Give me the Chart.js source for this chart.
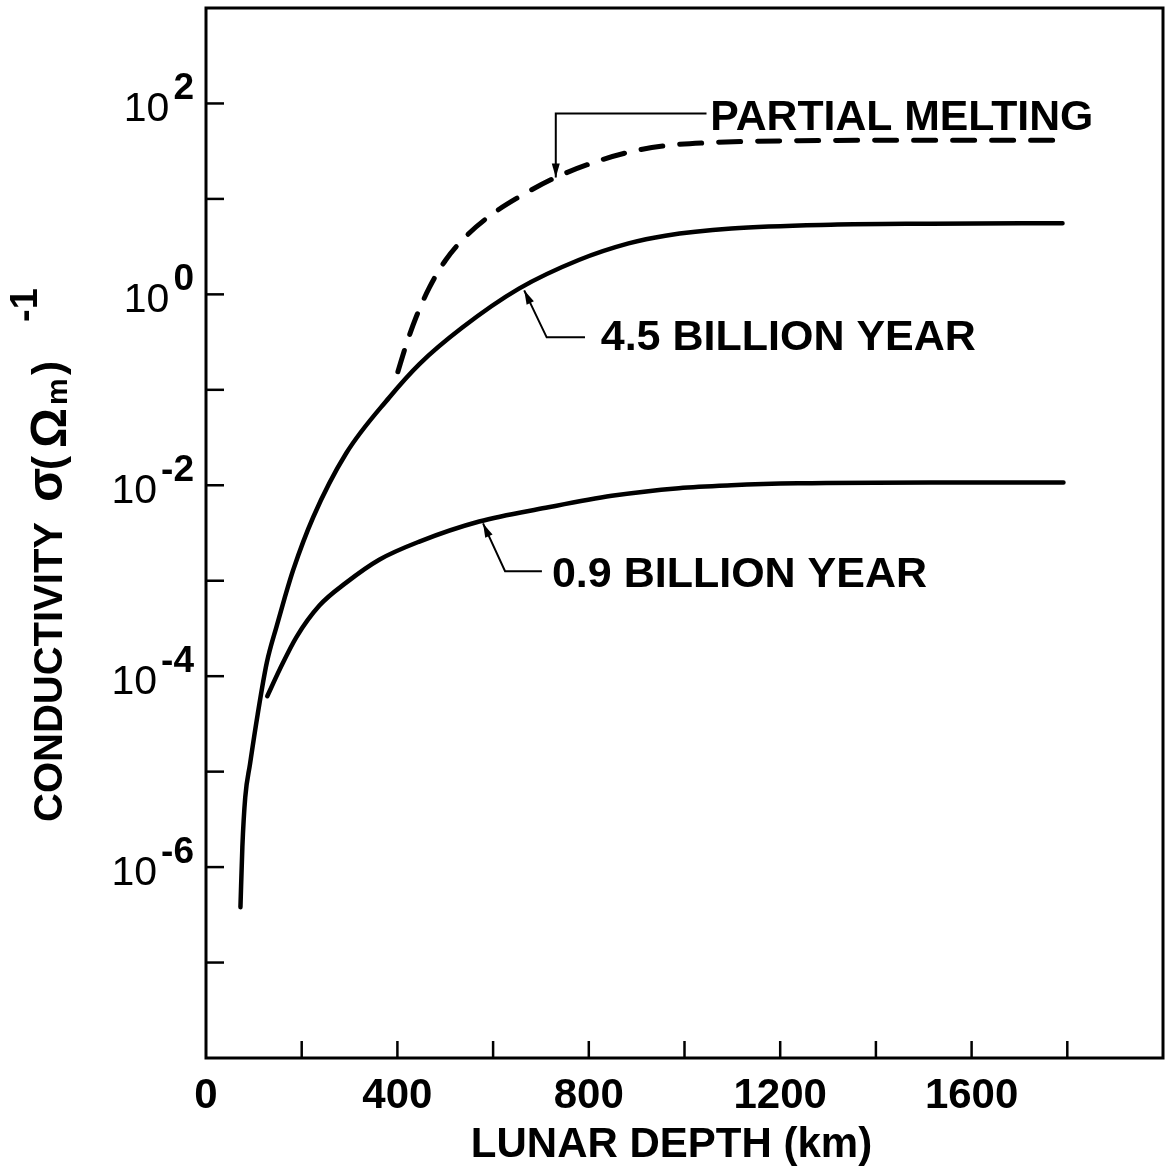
<!DOCTYPE html>
<html>
<head>
<meta charset="utf-8">
<script src="https://cdn.jsdelivr.net/npm/chart.js@4.4.1/dist/chart.umd.min.js"></script>
<style>
  html, body { margin: 0; padding: 0; background: #fff; }
</style>
</head>
<body>
<canvas id="myChart" width="1166" height="1169"></canvas>
<script>
// lunar depth (km) vs log10 of conductivity
const depth45 = [72, 76, 82, 92, 108, 127, 148, 165, 182, 224, 293, 383, 446, 535, 654, 779, 883, 960, 1098, 1306, 1515, 1790];
const logSigma45 = [-6.42, -5.79, -5.27, -4.92, -4.40, -3.86, -3.47, -3.17, -2.89, -2.335, -1.665, -1.08, -0.73, -0.35, 0.06, 0.36, 0.534, 0.615, 0.69, 0.73, 0.74, 0.745];

const depth09 = [128, 154, 189, 237, 293, 362, 446, 571, 710, 848, 988, 1098, 1237, 1515, 1792];
const logSigma09 = [-4.21, -3.93, -3.59, -3.26, -3.02, -2.78, -2.59, -2.38, -2.236, -2.11, -2.03, -2.00, -1.98, -1.97, -1.97];

const depthMelt = [401, 418, 439, 467, 501, 543, 598, 654, 731, 821, 890, 960, 1056, 1237, 1515, 1790];
const logSigmaMelt = [-0.81, -0.534, -0.24, 0.073, 0.36, 0.607, 0.84, 1.02, 1.225, 1.40, 1.497, 1.557, 1.59, 1.61, 1.615, 1.615];

const xTickLabels = [0, 400, 800, 1200, 1600];
const xTickMarks = [200, 400, 600, 800, 1000, 1200, 1400, 1600, 1800];
const yTickExponents = [2, 0, -2, -4, -6];
const yTickMarks = [-7, -6, -5, -4, -3, -2, -1, 0, 1, 2];

// curve labels: text, arrow tip, elbow, end of leader, text start (km, log10 sigma)
const curveNotes = [
  { text: 'PARTIAL MELTING', tip: [731, 1.225], elbow: [731, 1.895], end: [1046, 1.895], at: [1054, 1.717], width: 383 },
  { text: '4.5 BILLION YEAR', tip: [665, 0.042], elbow: [712, -0.45], end: [792, -0.45], at: [825, -0.586], width: 376 },
  { text: '0.9 BILLION YEAR', tip: [579, -2.40], elbow: [625, -2.90], end: [702, -2.90], at: [723, -3.07], width: 384 }
];

function toPoints(xs, logs) {
  return xs.map((x, i) => ({ x: x, y: Math.pow(10, logs[i]) }));
}

const FONT = "'Liberation Sans', Arial, sans-serif";

const paperPlugin = {
  id: 'paper',
  afterDatasetsDraw(chart) {
    const ctx = chart.ctx;
    const xs = chart.scales.x, ys = chart.scales.y;
    const a = chart.chartArea;
    const px = v => xs.getPixelForValue(v);
    const py = l => ys.getPixelForValue(Math.pow(10, l));

    ctx.save();
    ctx.strokeStyle = '#000';
    ctx.fillStyle = '#000';

    // frame
    ctx.lineWidth = 3;
    ctx.strokeRect(a.left, a.top, a.right - a.left, a.bottom - a.top);

    // inward ticks
    ctx.lineWidth = 2.5;
    xTickMarks.forEach(v => {
      ctx.beginPath();
      ctx.moveTo(px(v), a.bottom);
      ctx.lineTo(px(v), a.bottom - 17);
      ctx.stroke();
    });
    yTickMarks.forEach(e => {
      ctx.beginPath();
      ctx.moveTo(a.left, py(e));
      ctx.lineTo(a.left + 18, py(e));
      ctx.stroke();
    });

    // x tick labels
    ctx.textAlign = 'center';
    ctx.textBaseline = 'alphabetic';
    ctx.font = 'bold 42px ' + FONT;
    xTickLabels.forEach(v => ctx.fillText(String(v), px(v), a.bottom + 50));

    // x title
    ctx.fillText('LUNAR DEPTH (km)', (a.left + a.right) / 2 - 13, a.bottom + 99);

    // y tick labels 10^n
    ctx.textAlign = 'right';
    yTickExponents.forEach(e => {
      const yp = py(e);
      const sup = e < 0 ? '-' + (-e) : String(e);
      ctx.font = 'bold 37px ' + FONT;
      const supW = ctx.measureText(sup).width;
      ctx.fillText(sup, a.left - 12, yp - 4);
      ctx.font = '41px ' + FONT;
      ctx.fillText('10', a.left - 12 - supW - 4, yp + 18);
    });

    // y title, rotated; pieces placed along the text line
    ctx.save();
    ctx.translate(62, 822);
    ctx.rotate(-Math.PI / 2);
    ctx.textAlign = 'left';
    const piece = (t, font, at, dy) => {
      ctx.font = font;
      ctx.fillText(t, at, dy);
    };
    piece('CONDUCTIVITY', 'bold 40px ' + FONT, 0, 0);
    piece('σ', 'bold 50px ' + FONT, 320, 0);
    piece('(', 'bold 42px ' + FONT, 352, 0);
    piece('Ω', 'bold 50px ' + FONT, 374, 4);
    piece('m', 'bold 30px ' + FONT, 417, 5);
    piece(')', 'bold 42px ' + FONT, 447, 0);
    piece('-1', 'bold 38px ' + FONT, 500, -25);
    ctx.restore();

    // curve labels with leaders and arrowheads
    curveNotes.forEach(n => {
      const tip = [px(n.tip[0]), py(n.tip[1])];
      const elbow = [px(n.elbow[0]), py(n.elbow[1])];
      const end = [px(n.end[0]), py(n.end[1])];
      ctx.lineWidth = 2;
      ctx.beginPath();
      ctx.moveTo(end[0], end[1]);
      ctx.lineTo(elbow[0], elbow[1]);
      ctx.lineTo(tip[0], tip[1]);
      ctx.stroke();
      const ang = Math.atan2(tip[1] - elbow[1], tip[0] - elbow[0]);
      ctx.beginPath();
      ctx.moveTo(tip[0], tip[1]);
      ctx.lineTo(tip[0] - 14 * Math.cos(ang) + 4 * Math.sin(ang), tip[1] - 14 * Math.sin(ang) - 4 * Math.cos(ang));
      ctx.lineTo(tip[0] - 14 * Math.cos(ang) - 4 * Math.sin(ang), tip[1] - 14 * Math.sin(ang) + 4 * Math.cos(ang));
      ctx.closePath();
      ctx.fill();
      ctx.font = 'bold 43px ' + FONT;
      ctx.textAlign = 'left';
      ctx.fillText(n.text, px(n.at[0]), py(n.at[1]), n.width);
    });

    ctx.restore();
  }
};

const ctx = document.getElementById('myChart').getContext('2d');
const myChart = new Chart(ctx, {
  type: 'line',
  data: {
    datasets: [{
      label: '4.5 BILLION YEAR',
      data: toPoints(depth45, logSigma45),
      borderColor: '#000',
      borderWidth: 4.5,
      borderCapStyle: 'round',
      pointRadius: 0,
      cubicInterpolationMode: 'monotone',
      fill: false
    }, {
      label: '0.9 BILLION YEAR',
      data: toPoints(depth09, logSigma09),
      borderColor: '#000',
      borderWidth: 4.5,
      borderCapStyle: 'round',
      pointRadius: 0,
      cubicInterpolationMode: 'monotone',
      fill: false
    }, {
      label: 'PARTIAL MELTING',
      data: toPoints(depthMelt, logSigmaMelt),
      borderColor: '#000',
      borderWidth: 5,
      borderCapStyle: 'round',
      borderDash: [22, 17],
      pointRadius: 0,
      cubicInterpolationMode: 'monotone',
      fill: false
    }]
  },
  options: {
    responsive: false,
    animation: false,
    layout: { padding: { left: 206, right: 3, top: 8, bottom: 111 } },
    plugins: { legend: { display: false }, tooltip: { enabled: false } },
    scales: {
      x: { type: 'linear', min: 0, max: 2000, display: false },
      y: { type: 'logarithmic', min: 1e-8, max: 1e3, display: false }
    }
  },
  plugins: [paperPlugin]
});
</script>
</body>
</html>
